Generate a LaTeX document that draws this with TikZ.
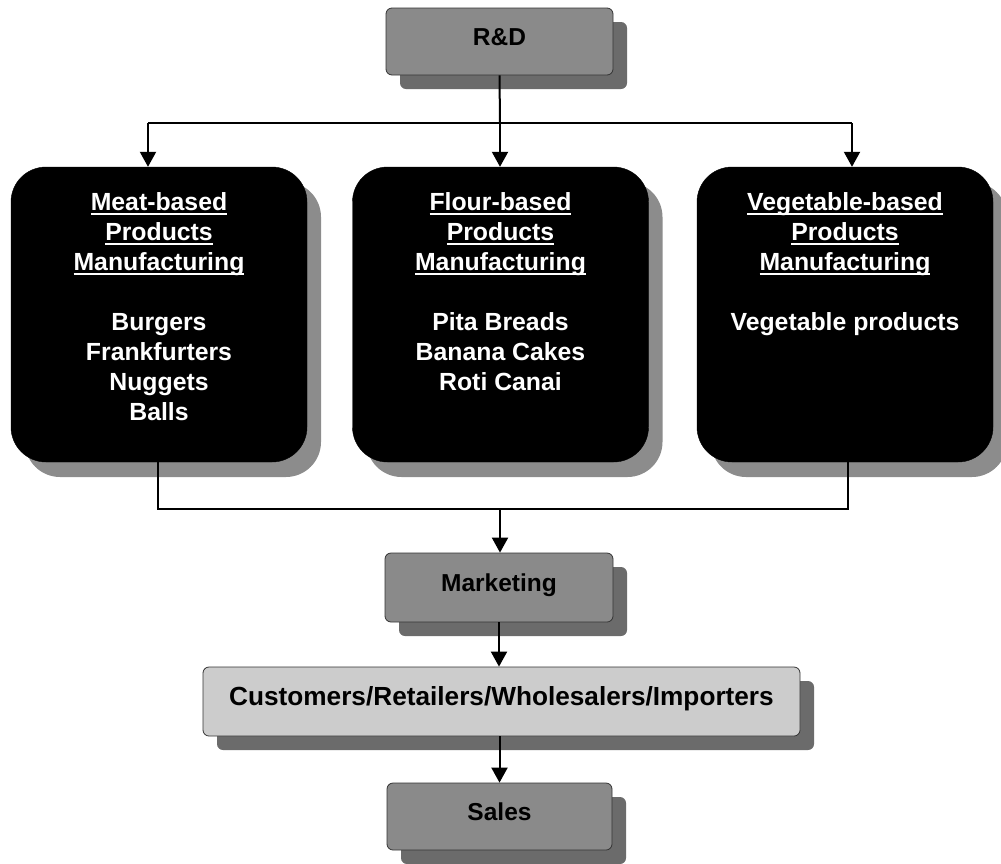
\documentclass[tikz,border=0pt]{standalone}
\usepackage{fontspec}
\setmainfont{Liberation Sans}
\usetikzlibrary{arrows.meta,shadows}

% white underlined heading line
\newcommand{\ulhead}[1]{\leavevmode\setbox0=\hbox{#1}\rlap{\rule[-4.5pt]{\wd0}{2pt}}\box0}

\tikzset{
  shade/.style={drop shadow={shadow xshift=14pt,shadow yshift=-14pt,fill=black!58,opacity=1}},
  graybox/.style={draw=black!80, line width=0.8pt, fill=black!46, rounded corners=6pt,
    inner sep=0pt, text height=20pt, text depth=13pt,
    font=\fontsize{24.5}{29}\selectfont\bfseries, shade},
  blackbox/.style={draw=black, fill=black, rounded corners=35pt, inner sep=0pt,
    text=white, font=\fontsize{24.8}{30}\selectfont\bfseries,
    drop shadow={shadow xshift=14pt,shadow yshift=-15pt,fill=black!45,opacity=1}},
  link/.style={line width=2pt, draw=black},
  arr/.style={link, -{Triangle[width=16pt,length=15pt]}}
}

\newcommand{\boxtext}[1]{\begin{minipage}[c][295pt][t]{296pt}\centering\vspace*{26pt}#1\end{minipage}}

\begin{document}
\begin{tikzpicture}[x=1pt,y=-1pt]
\useasboundingbox (0,0) rectangle (1001,863);

% departments
\node[graybox, minimum width=227pt, minimum height=67pt] (rd) at (499.5,41.5) {R\&D};

\node[blackbox] (meat) at (159,314.5) {\boxtext{%
  \ulhead{Meat-based}\\ \ulhead{Products}\\ \ulhead{Manufacturing}\\[30pt]
  Burgers\\ Frankfurters\\ Nuggets\\ Balls}};
\node[blackbox] (flour) at (500.5,314.5) {\boxtext{%
  \ulhead{Flour-based}\\ \ulhead{Products}\\ \ulhead{Manufacturing}\\[30pt]
  Pita Breads\\ Banana Cakes\\ Roti Canai}};
\node[blackbox] (veg) at (845,314.5) {\boxtext{%
  \ulhead{Vegetable-based}\\ \ulhead{Products}\\ \ulhead{Manufacturing}\\[30pt]
  Vegetable products}};

\node[graybox, minimum width=228pt, minimum height=69pt] (mkt) at (499,587.5) {Marketing};
\node[graybox, fill=black!20, minimum width=597pt, minimum height=69pt,
  font=\fontsize{26.2}{30}\selectfont\bfseries] (cust) at (501.5,701.5)
  {Customers/Retailers/Wholesalers/Importers};
\node[graybox, minimum width=225pt, minimum height=67pt] (sales) at (499.5,816.5) {Sales};

% distribution bus from R&D
\coordinate (busL) at (148,123);
\coordinate (busM) at (500,123);
\coordinate (busR) at (852,123);
\draw[link] (rd.south) -- (busM);
\draw[link] (busL) -- (busR);
\draw[arr] (busL) -- (busL |- meat.north);
\draw[arr] (busM) -- (busM |- flour.north);
\draw[arr] (busR) -- (busR |- veg.north);

% collecting bus into marketing
\coordinate (colL) at (158,509);
\coordinate (colM) at (500,509);
\coordinate (colR) at (848,509);
\draw[link] (colL |- meat.south) -- (colL) -- (colR) -- (colR |- veg.south);
\draw[arr] (colM) -- (colM |- mkt.north);

% downstream chain
\draw[arr] (mkt.south) -- (cust.north -| mkt.south);
\draw[arr] (cust.south -| sales.north) -- (sales.north);
\end{tikzpicture}
\end{document}
